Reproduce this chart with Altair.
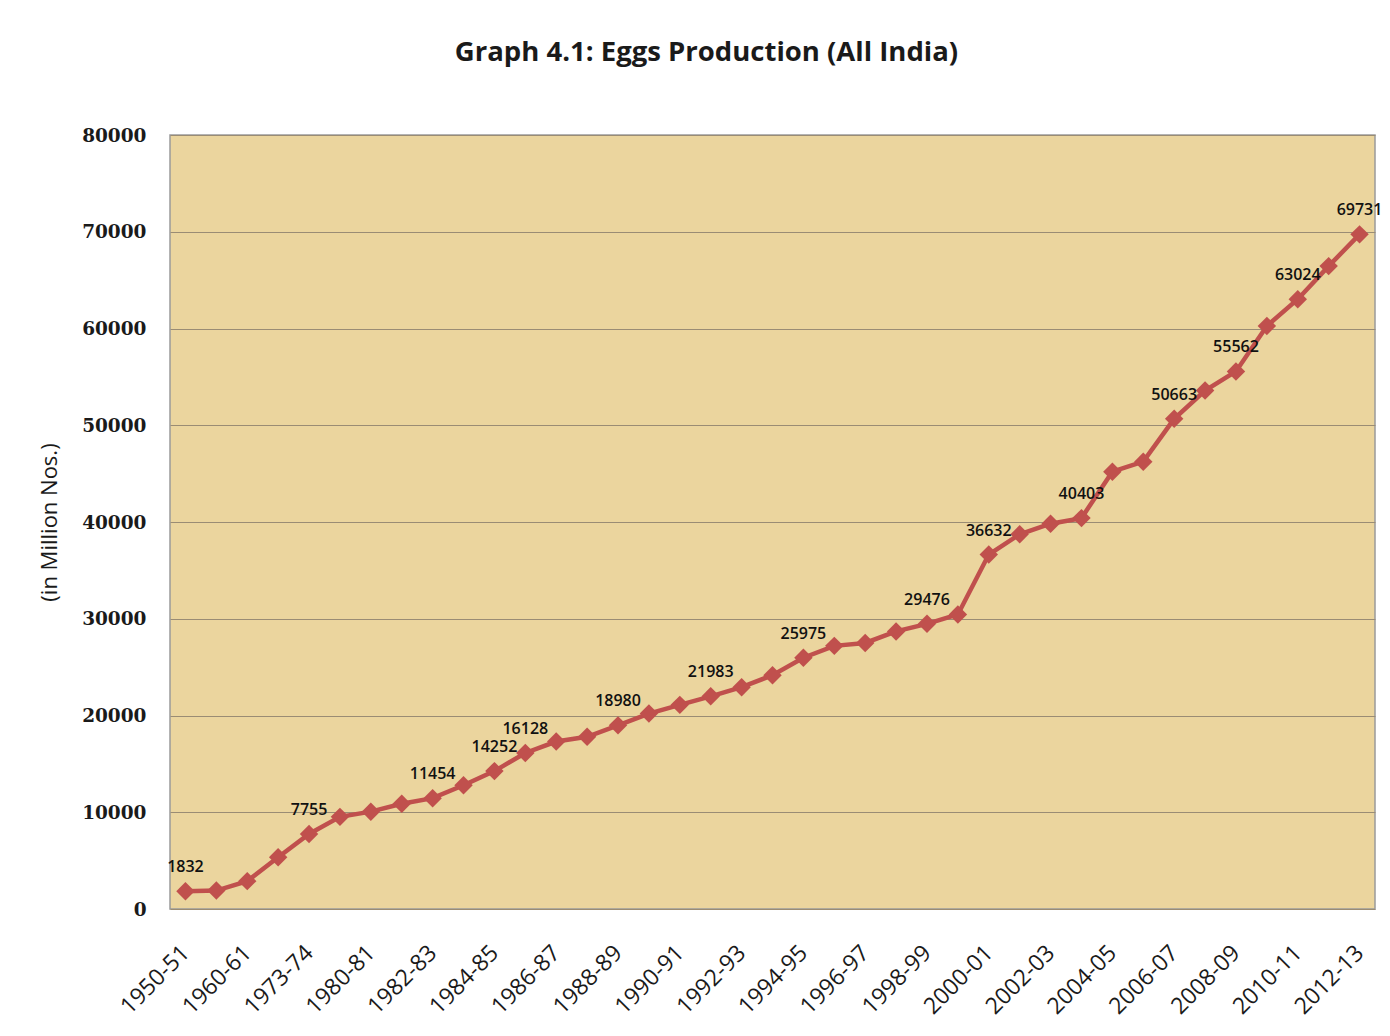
import altair as alt
import pandas as pd

years = ["1950-51", "1955-56", "1960-61", "1968-69", "1973-74", "1979-80", "1980-81",
         "1981-82", "1982-83", "1983-84", "1984-85", "1985-86", "1986-87", "1987-88",
         "1988-89", "1989-90", "1990-91", "1991-92", "1992-93", "1993-94", "1994-95",
         "1995-96", "1996-97", "1997-98", "1998-99", "1999-00", "2000-01", "2001-02",
         "2002-03", "2003-04", "2004-05", "2005-06", "2006-07", "2007-08", "2008-09",
         "2009-10", "2010-11", "2011-12", "2012-13"]

eggs = [1832, 1908, 2881, 5342, 7755, 9523, 10060,
        10876, 11454, 12792, 14252, 16128, 17310, 17795,
        18980, 20204, 21101, 21983, 22929, 24167, 25975,
        27198, 27496, 28689, 29476, 30447, 36632, 38729,
        39823, 40403, 45201, 46235, 50663, 53583, 55562,
        60267, 63024, 66450, 69731]

labelled_years = ["1950-51", "1973-74", "1982-83", "1984-85", "1985-86", "1988-89",
                  "1991-92", "1994-95", "1998-99", "2000-01", "2003-04", "2006-07",
                  "2008-09", "2010-11", "2012-13"]

tick_years = years[::2]
y_ticks = [0, 10000, 20000, 30000, 40000, 50000, 60000, 70000, 80000]

labels = [str(v) if y in labelled_years else "" for y, v in zip(years, eggs)]
df = pd.DataFrame({"year": years, "eggs": eggs, "label": labels})

x_enc = alt.X(
    "year:N", sort=None,
    scale=alt.Scale(type="point", padding=0.5),
    axis=alt.Axis(values=tick_years, labelAngle=-45, labelAlign="right",
                  labelBaseline="middle", labelPadding=40, labelFont="Open Sans",
                  labelFontSize=23, labelColor="#1a1a1a", ticks=False, domain=False,
                  grid=False, title=None),
)
y_enc = alt.Y(
    "eggs:Q",
    scale=alt.Scale(domain=[0, 80000], nice=False),
    axis=alt.Axis(values=y_ticks, format="d", labelFont="DejaVu Serif",
                  labelFontWeight="bold", labelFontSize=18.5, labelColor="#1a1a1a",
                  labelPadding=24, ticks=False, domain=False, grid=True,
                  gridColor="#9a8c74", gridWidth=1,
                  title="(in Million Nos.)", titleFont="Open Sans", titleFontSize=22,
                  titleFontWeight="normal", titleColor="#1a1a1a", titlePadding=20),
)

base = alt.Chart(df).encode(x=x_enc, y=y_enc)

line = base.mark_line(color="#C0504D", strokeWidth=4.5)
pts = base.mark_point(shape="diamond", filled=True, size=340, color="#C0504D", opacity=1)
txt = base.mark_text(dy=-24, font="Open Sans", fontSize=16, fontWeight=600,
                     color="#111111").encode(text="label:N")

chart = (line + pts + txt).properties(
    width=1205, height=774,
    title=alt.TitleParams(
        text="Graph 4.1: Eggs Production (All India)", font="Open Sans",
        fontSize=27.5, fontWeight="bold", color="#1a1a1a", anchor="middle",
        frame="group", offset=38, baseline="alphabetic", dx=-66,
    ),
    autosize=alt.AutoSizeParams(type="none"),
    padding={"left": 162, "top": 127, "right": 7, "bottom": 112},
).configure(
    background="white",
    view=alt.ViewConfig(fill="#EBD59E", stroke="#9a9a9a", strokeWidth=1.5),
)

chart.save("out.html", embed_options={"renderer": "svg", "actions": False})
